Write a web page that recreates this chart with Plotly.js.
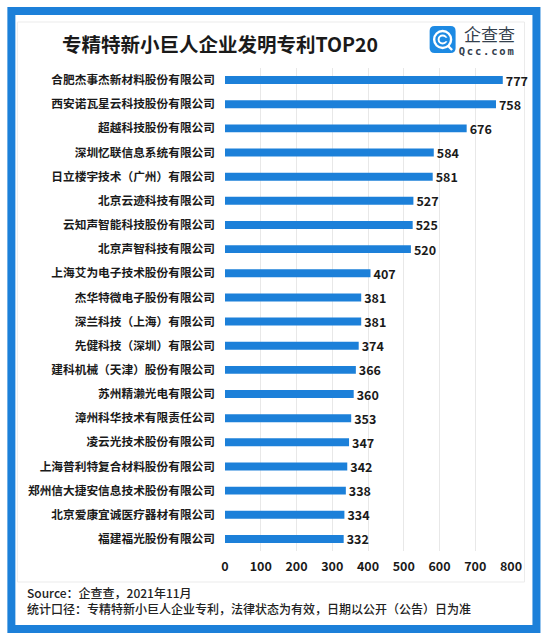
<!DOCTYPE html>
<html>
<head>
<meta charset="utf-8">
<script src="https://cdn.plot.ly/plotly-3.0.1.min.js"></script>
<style>html,body{margin:0;padding:0;background:#fff;}#chart{width:550px;height:644px;}</style>
</head>
<body>
<div id="chart"></div>
<script>
const companies = [
  '合肥杰事杰新材料股份有限公司',
  '西安诺瓦星云科技股份有限公司',
  '超越科技股份有限公司',
  '深圳忆联信息系统有限公司',
  '日立楼宇技术（广州）有限公司',
  '北京云迹科技有限公司',
  '云知声智能科技股份有限公司',
  '北京声智科技有限公司',
  '上海艾为电子技术股份有限公司',
  '杰华特微电子股份有限公司',
  '深兰科技（上海）有限公司',
  '先健科技（深圳）有限公司',
  '建科机械（天津）股份有限公司',
  '苏州精濑光电有限公司',
  '漳州科华技术有限责任公司',
  '凌云光技术股份有限公司',
  '上海普利特复合材料股份有限公司',
  '郑州信大捷安信息技术股份有限公司',
  '北京爱康宜诚医疗器材有限公司',
  '福建福光股份有限公司'
];
const patents = [777, 758, 676, 584, 581, 527, 525, 520, 407, 381, 381, 374, 366, 360, 353, 347, 342, 338, 334, 332];
const xTicks = [0, 100, 200, 300, 400, 500, 600, 700, 800];

const titleText = '专精特新小巨人企业发明专利TOP20';
const sourceText = 'Source：企查查，2021年11月';
const noteText = '统计口径：专精特新小巨人企业专利，法律状态为有效，日期以公开（公告）日为准';
const brandText = '企查查';
const brandUrl = 'Qcc.com';

const W = 550, H = 644;
const L = 225, R = 511.5, T = 68, B = 551;
const px = x => (x - L) / (R - L);
const py = y => (B - y) / (B - T);

const CJK = '"Noto Sans CJK SC", "Noto Sans", sans-serif';
const BLUE = '#1c80d9';

function rectPath(x0, y0, x1, y1, r) {
  const p = [
    ['M', x0 + r, y0], ['L', x1 - r, y0], ['Q', x1, y0, x1, y0 + r],
    ['L', x1, y1 - r], ['Q', x1, y1, x1 - r, y1], ['L', x0 + r, y1],
    ['Q', x0, y1, x0, y1 - r], ['L', x0, y0 + r], ['Q', x0, y0, x0 + r, y0]
  ];
  return p.map(seg => {
    const c = seg[0]; const v = seg.slice(1);
    const out = [];
    for (let i = 0; i < v.length; i += 2) out.push(px(v[i]).toFixed(5) + ',' + py(v[i + 1]).toFixed(5));
    return c + out.join(' ');
  }).join(' ') + ' Z';
}

const trace = {
  type: 'bar',
  orientation: 'h',
  x: patents,
  y: companies,
  marker: {color: BLUE},
  text: patents.map(String),
  textposition: 'outside',
  constraintext: 'none',
  cliponaxis: false,
  textfont: {family: CJK, size: 12.5, color: '#1a1a1a', weight: 700},
  hoverinfo: 'skip'
};

const shapes = [
  {type: 'rect', xref: 'paper', yref: 'paper', x0: px(17), x1: px(525), y0: py(582), y1: py(22),
   line: {color: '#ebebeb', width: 1}, fillcolor: 'rgba(0,0,0,0)', layer: 'below'},
  {type: 'rect', xref: 'paper', yref: 'paper', x0: px(11), x1: px(537), y0: py(629), y1: py(11),
   line: {color: BLUE, width: 8}, fillcolor: 'rgba(0,0,0,0)'},
  {type: 'path', xref: 'paper', yref: 'paper', path: rectPath(430, 26, 456, 53, 5),
   fillcolor: '#1d8ae3', line: {width: 0}},
  {type: 'circle', xref: 'paper', yref: 'paper', x0: px(434.5), x1: px(451.5), y0: py(48), y1: py(31),
   line: {color: '#ffffff', width: 2.4}},
  {type: 'circle', xref: 'paper', yref: 'paper', x0: px(439), x1: px(447), y0: py(43.5), y1: py(35.5),
   line: {color: '#ffffff', width: 2}},
  {type: 'rect', xref: 'paper', yref: 'paper', x0: px(444.5), x1: px(449), y0: py(41.3), y1: py(37.7),
   fillcolor: '#1d8ae3', line: {width: 0}},
  {type: 'line', xref: 'paper', yref: 'paper', x0: px(448), x1: px(452.5), y0: py(45.5), y1: py(50),
   line: {color: '#ffffff', width: 2.4}}
];

const annotations = [
  {text: brandText, xref: 'paper', yref: 'paper', x: px(462), y: py(34), xanchor: 'left', yanchor: 'middle',
   showarrow: false, font: {family: CJK, size: 17, color: '#34404d'}},
  {text: brandUrl, xref: 'paper', yref: 'paper', x: px(463), y: py(51), xanchor: 'left', yanchor: 'middle',
   showarrow: false, font: {family: '"DejaVu Sans Mono", monospace', size: 10.5, color: '#34404d', weight: 700}},
  {text: sourceText, xref: 'paper', yref: 'paper', x: px(25), y: py(592), xanchor: 'left', yanchor: 'middle',
   showarrow: false, font: {family: CJK, size: 12, color: '#222', weight: 500}},
  {text: noteText, xref: 'paper', yref: 'paper', x: px(25), y: py(608.5), xanchor: 'left', yanchor: 'middle',
   showarrow: false, font: {family: CJK, size: 12, color: '#222', weight: 500}}
];

const layout = {
  width: W, height: H,
  margin: {l: L, r: W - R, t: T, b: H - B, pad: 0},
  paper_bgcolor: '#ffffff',
  plot_bgcolor: 'rgba(0,0,0,0)',
  showlegend: false,
  bargap: 0.67,
  title: {
    text: titleText,
    xref: 'container', yref: 'container',
    x: 62 / W, xanchor: 'left',
    y: 1 - 45 / H, yanchor: 'middle',
    font: {family: CJK, size: 19.5, color: '#1a1a1a', weight: 700}
  },
  xaxis: {
    range: [0, 800],
    tickvals: xTicks,
    ticktext: xTicks.map(String),
    showgrid: true, gridcolor: '#e8e8e8', gridwidth: 1,
    zeroline: false, showline: false,
    ticks: '', ticklabelstandoff: 6,
    tickfont: {family: CJK, size: 12.5, color: '#1a1a1a', weight: 700},
    automargin: false, fixedrange: true
  },
  yaxis: {
    type: 'category',
    categoryorder: 'array', categoryarray: companies,
    autorange: 'reversed',
    showgrid: false, zeroline: false, showline: false,
    ticks: '', ticklabelstandoff: 9,
    tickfont: {family: CJK, size: 11.7, color: '#1a1a1a', weight: 700},
    automargin: false, fixedrange: true
  },
  shapes: shapes,
  annotations: annotations
};

Plotly.newPlot('chart', [trace], layout, {displayModeBar: false, staticPlot: true}).then(() => {
  document.querySelectorAll('.annotation-text').forEach(el => {
    if (el.textContent === brandUrl) el.setAttribute('letter-spacing', '1.8px');
  });
});
</script>
</body>
</html>
